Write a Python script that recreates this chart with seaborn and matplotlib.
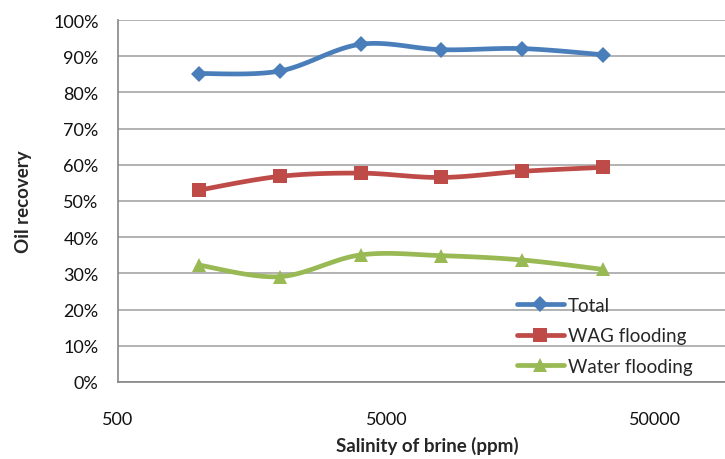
import numpy as np
import pandas as pd
import matplotlib
matplotlib.use("Agg")
import matplotlib.pyplot as plt
from matplotlib.lines import Line2D
from matplotlib.ticker import NullLocator, PercentFormatter
import seaborn as sns

# data
salinity = [1000, 2000, 4000, 8000, 16000, 32000]
total = [0.852, 0.859, 0.933, 0.918, 0.921, 0.904]
wag = [0.530, 0.568, 0.577, 0.565, 0.582, 0.593]
water = [0.323, 0.291, 0.351, 0.349, 0.337, 0.311]

series_names = ["Total", "WAG flooding", "Water flooding"]
series_vals = [total, wag, water]
colors = ["#4A7EBB", "#BE4B48", "#98B954"]
markers = ["D", "s", "^"]
msizes = [8.5, 9.5, 10.5]


def smooth(x, y, n=25):
    # Excel-like smoothed line: cubic bezier through points (log-x space)
    lx = np.log10(np.asarray(x, dtype=float))
    yy = np.asarray(y, dtype=float)
    pts = np.column_stack([lx, yy])
    k = len(pts)
    out = []
    for i in range(k - 1):
        p0 = pts[max(i - 1, 0)]
        p1 = pts[i]
        p2 = pts[i + 1]
        p3 = pts[min(i + 2, k - 1)]
        c1 = p1 + (p2 - p0) / 6
        c2 = p2 - (p3 - p1) / 6
        t = np.linspace(0, 1, n)[:, None]
        seg = ((1 - t) ** 3) * p1 + 3 * ((1 - t) ** 2) * t * c1 + 3 * (1 - t) * t ** 2 * c2 + t ** 3 * p2
        out.append(seg if i == 0 else seg[1:])
    out = np.vstack(out)
    return pd.DataFrame({"x": 10 ** out[:, 0], "y": out[:, 1]})


sns.set_style("white")
plt.rcParams["font.family"] = ["Lato", "DejaVu Sans"]

fig = plt.figure(figsize=(7.25, 4.6), dpi=100)
ax = fig.add_axes([118 / 725, 77 / 460, (736 - 118) / 725, 362 / 460])
ax.set_xscale("log")

for name, vals, c, m, ms in zip(series_names, series_vals, colors, markers, msizes):
    curve = smooth(salinity, vals)
    sns.lineplot(data=curve, x="x", y="y", sort=False, color=c, lw=3.4,
                 ax=ax, legend=False, zorder=3)
    ax.plot(salinity, vals, linestyle="none", marker=m, ms=ms, color=c,
            markeredgewidth=0, zorder=4)

ax.set_xlim(500, 100000)
ax.set_ylim(0, 1)
ax.set_xticks([500, 5000, 50000])
ax.set_xticklabels(["500", "5000", "50000"])
ax.xaxis.set_minor_locator(NullLocator())
ax.set_yticks(np.arange(0, 1.01, 0.1))
ax.yaxis.set_major_formatter(PercentFormatter(1.0, decimals=0))

ax.yaxis.grid(True, color="#A6A6A6", lw=1.2)
ax.xaxis.grid(False)
for s in ["top", "right"]:
    ax.spines[s].set_visible(False)
for s in ["left", "bottom"]:
    ax.spines[s].set_color("#868686")
    ax.spines[s].set_linewidth(1.2)

ax.tick_params(axis="x", direction="in", length=5, width=1, color="#868686",
               pad=21, labelsize=13, labelcolor="#111111")
ax.tick_params(axis="y", length=0, pad=14, labelsize=13, labelcolor="#111111")

ax.set_xlabel("Salinity of brine (ppm)", fontsize=13.5, fontweight="bold", labelpad=6)
ax.set_ylabel("Oil recovery", fontsize=13.5, fontweight="bold", labelpad=15)

handles = [Line2D([], [], color=c, lw=3.4, marker=m, ms=ms, markeredgewidth=0)
           for c, m, ms in zip(colors, markers, msizes)]
fig.legend(handles, series_names, loc="upper left",
           bbox_to_anchor=(500 / 725, 1 - 281 / 460), frameon=False,
           fontsize=13.5, handlelength=2.5, handletextpad=0.2, labelspacing=0.72)

fig.savefig("out.png", dpi=100)
